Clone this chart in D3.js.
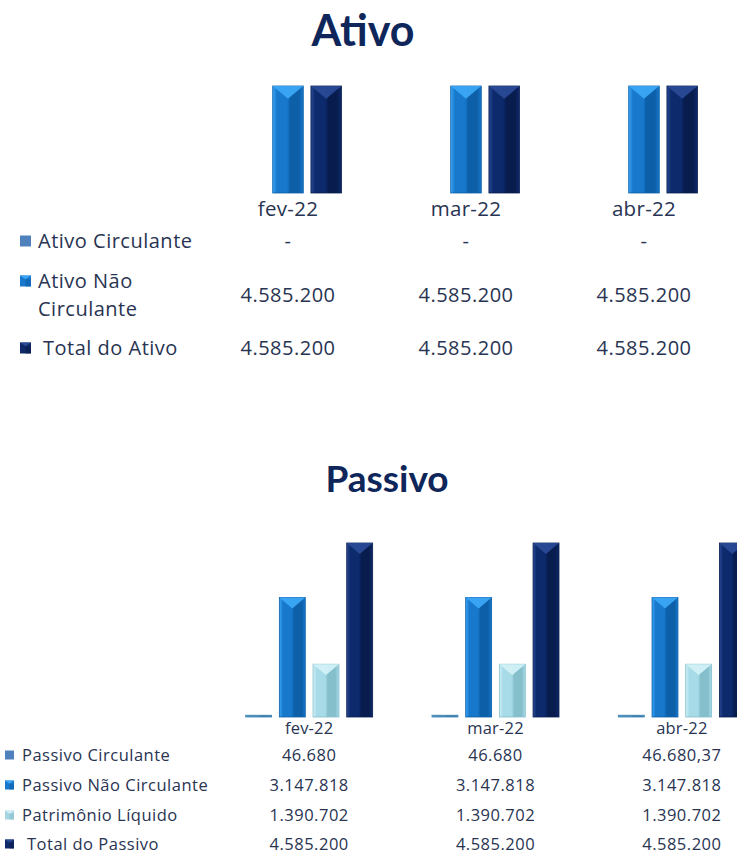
<!DOCTYPE html>
<html>
<head>
<meta charset="utf-8">
<script src="https://cdn.jsdelivr.net/npm/d3@7"></script>
<style>
  body { margin: 0; background: #fff; }
  svg { display: block; font-family: 'Open Sans', Lato, sans-serif; }
</style>
</head>
<body>
<div id="chartwrap"></div>
<script>
const WIDTH = 737;
const HEIGHT = 855;

const periodos = ['fev-22', 'mar-22', 'abr-22'];

const ativoSeries = ['Ativo Circulante', 'Ativo Não Circulante', 'Total do Ativo'];
const ativoCirculante = [0, 0, 0];
const ativoNaoCirculante = [4585200, 4585200, 4585200];
const totalAtivo = [4585200, 4585200, 4585200];

const passivoSeries = ['Passivo Circulante', 'Passivo Não Circulante', 'Patrimônio Líquido', 'Total do Passivo'];
const passivoCirculante = [46680, 46680, 46680.37];
const passivoNaoCirculante = [3147818, 3147818, 3147818];
const patrimonioLiquido = [1390702, 1390702, 1390702];
const totalPassivo = [4585200, 4585200, 4585200];

// cores: principal, claro, escuro, marcador
const paleta = {
  circ: { main: '#4f86c6', light: '#6fa3da', dark: '#3a6ea8', mark: '#4f81bd' },
  naoCirc: { main: '#1778cc', light: '#3aa6f4', dark: '#0d5fa8', mark: '#1a78cc' },
  pl: { main: '#a7dbe7', light: '#d2f1f7', dark: '#86bfcc', mark: '#a7d6e2' },
  total: { main: '#0d2a6c', light: '#2a4a96', dark: '#081c4e', mark: '#0f2a66' }
};
const passivoCircCor = { main: '#4a95c4', light: '#6ab0d8', dark: '#3a7fae', mark: '#4f81bd' };

const ptBR = d3.formatLocale({ decimal: ',', thousands: '.', grouping: [3], currency: ['R$ ', ''] });
const fmtInt = ptBR.format(',.0f');
const fmtDec = ptBR.format(',.2f');
const fmt = v => v === 0 ? '-' : (Number.isInteger(v) ? fmtInt(v) : fmtDec(v));

const TEXT = '#283452';
const TITLE = '#0e2659';

const svg = d3.select('#chartwrap')
  .append('svg')
  .attr('width', WIDTH)
  .attr('height', HEIGHT)
  .style('background-color', '#fff');

const defs = svg.append('defs');

function gradiente(id, c) {
  const g = defs.append('linearGradient')
    .attr('id', id)
    .attr('x1', '0%').attr('x2', '100%').attr('y1', '0%').attr('y2', '0%');
  [[0, c.light], [0.14, c.main], [0.5, c.main], [0.56, c.dark], [0.86, c.dark], [1, c.main]]
    .forEach(([o, col]) => g.append('stop').attr('offset', o).attr('stop-color', col));
}
gradiente('g-circ', paleta.circ);
gradiente('g-naoCirc', paleta.naoCirc);
gradiente('g-pl', paleta.pl);
gradiente('g-total', paleta.total);
gradiente('g-pcirc', passivoCircCor);

// desenha barras biseladas
function barras(g, dados, x0, x1, y, cores) {
  const grupos = g.selectAll('g.grupo')
    .data(periodos)
    .enter()
    .append('g')
    .attr('class', 'grupo')
    .attr('transform', d => `translate(${x0(d) + x0.bandwidth() / 2},0)`);

  grupos.each(function(p, i) {
    const sel = d3.select(this);
    dados.forEach((s, k) => {
      const v = s.values[i];
      if (v === 0) return;
      const bx = x1(s.name);
      const bw = x1.bandwidth();
      const top = y(v);
      const h = Math.max(y(0) - top, 1.5);
      const c = cores[k];
      sel.append('rect')
        .attr('x', bx)
        .attr('y', y(0) - h)
        .attr('width', bw)
        .attr('height', h)
        .attr('fill', `url(#${c.grad})`)
        .attr('stroke', c.dark)
        .attr('stroke-width', 0.8);
      if (h > bw / 2) {
        sel.append('path')
          .attr('d', `M${bx},${top} L${bx + bw},${top} L${bx + bw / 2},${top + bw * 0.42} Z`)
          .attr('fill', c.light)
          .attr('opacity', 0.95);
        sel.append('line')
          .attr('x1', bx + bw / 2).attr('x2', bx + bw / 2)
          .attr('y1', top + bw * 0.42).attr('y2', y(0))
          .attr('stroke', c.dark)
          .attr('stroke-opacity', 0.25)
          .attr('stroke-width', 1);
      }
    });
  });
}

function marcador(g, x, yc, size, c) {
  g.append('rect')
    .attr('x', x).attr('y', yc - size / 2)
    .attr('width', size).attr('height', size)
    .attr('fill', c.mark);
  if (c.bevel) {
    g.append('path')
      .attr('d', `M${x},${yc - size / 2} L${x + size},${yc - size / 2} L${x + size / 2},${yc - size / 2 + size * 0.35} Z`)
      .attr('fill', c.light);
    g.append('rect')
      .attr('x', x + size / 2).attr('y', yc - size / 2 + size * 0.35)
      .attr('width', size / 2).attr('height', size * 0.65)
      .attr('fill', c.dark).attr('opacity', 0.6);
  }
}

// ---------- ATIVO ----------
const ativo = svg.append('g').attr('id', 'ativo');

ativo.append('text')
  .attr('x', 363).attr('y', 46)
  .attr('text-anchor', 'middle')
  .attr('font-family', 'Lato, sans-serif')
  .attr('font-size', 43)
  .attr('font-weight', 'bold')
  .attr('fill', TITLE)
  .text('Ativo');

const ax0 = d3.scaleBand().domain(periodos).range([199, 733]);
const ax1 = d3.scaleBand().domain(ativoSeries).range([-53.5, 53.5]).paddingInner(0.2);
const ay = d3.scaleLinear().domain([0, d3.max(totalAtivo)]).range([193, 86]);

const ativoDados = [
  { name: ativoSeries[0], values: ativoCirculante },
  { name: ativoSeries[1], values: ativoNaoCirculante },
  { name: ativoSeries[2], values: totalAtivo }
];
barras(ativo.append('g'), ativoDados, ax0, ax1, ay, [
  Object.assign({ grad: 'g-circ' }, paleta.circ),
  Object.assign({ grad: 'g-naoCirc' }, paleta.naoCirc),
  Object.assign({ grad: 'g-total' }, paleta.total)
]);

const axAtivo = d3.axisBottom(ax0).tickSize(0).tickPadding(0);
ativo.append('g')
  .attr('transform', 'translate(0,201)')
  .call(axAtivo)
  .call(g => g.select('.domain').remove())
  .call(g => g.selectAll('text')
    .attr('font-size', 20.5)
    .attr('letter-spacing', 0.3)
    .attr('font-family', "'Open Sans', sans-serif")
    .attr('fill', TEXT));

// tabela do ativo
const ativoLinhas = [
  { label: ['Ativo Circulante'], y: 241, lx: 38, cor: paleta.circ, bevel: false, values: ativoCirculante },
  { label: ['Ativo Não', 'Circulante'], y: 295, ly: [281, 309], mky: 281, lx: 38, cor: paleta.naoCirc, bevel: true, values: ativoNaoCirculante },
  { label: ['Total do Ativo'], y: 348, lx: 43, cor: paleta.total, bevel: true, values: totalAtivo }
];
const tabA = ativo.append('g').attr('font-size', 20).attr('letter-spacing', 0.5).attr('fill', TEXT);
ativoLinhas.forEach(r => {
  marcador(tabA, 20, r.mky || r.y, 11, Object.assign({ bevel: r.bevel }, r.cor));
  const ys = r.ly || [r.y];
  r.label.forEach((t, j) => {
    tabA.append('text')
      .attr('x', r.lx).attr('y', ys[j])
      .attr('dy', '0.35em')
      .text(t);
  });
  r.values.forEach((v, i) => {
    tabA.append('text')
      .attr('x', ax0(periodos[i]) + ax0.bandwidth() / 2)
      .attr('y', r.y)
      .attr('dy', '0.35em')
      .attr('text-anchor', 'middle')
      .text(fmt(v));
  });
});

// ---------- PASSIVO ----------
const passivo = svg.append('g').attr('id', 'passivo');

passivo.append('text')
  .attr('x', 387).attr('y', 492)
  .attr('text-anchor', 'middle')
  .attr('font-family', 'Lato, sans-serif')
  .attr('font-size', 37)
  .attr('font-weight', 'bold')
  .attr('fill', TITLE)
  .text('Passivo');

const px0 = d3.scaleBand().domain(periodos).range([216, 775]);
const px1 = d3.scaleBand().domain(passivoSeries).range([-63.5, 63.5]).paddingInner(0.23);
const py = d3.scaleLinear().domain([0, d3.max(totalPassivo)]).range([717, 543]);

const passivoDados = [
  { name: passivoSeries[0], values: passivoCirculante },
  { name: passivoSeries[1], values: passivoNaoCirculante },
  { name: passivoSeries[2], values: patrimonioLiquido },
  { name: passivoSeries[3], values: totalPassivo }
];
barras(passivo.append('g'), passivoDados, px0, px1, py, [
  Object.assign({ grad: 'g-pcirc' }, passivoCircCor),
  Object.assign({ grad: 'g-naoCirc' }, paleta.naoCirc),
  Object.assign({ grad: 'g-pl' }, paleta.pl),
  Object.assign({ grad: 'g-total' }, paleta.total)
]);

const axPassivo = d3.axisBottom(px0).tickSize(0).tickPadding(0);
passivo.append('g')
  .attr('transform', 'translate(0,722)')
  .call(axPassivo)
  .call(g => g.select('.domain').remove())
  .call(g => g.selectAll('text')
    .attr('font-size', 16.5)
    .attr('letter-spacing', 0.2)
    .attr('font-family', "'Open Sans', sans-serif")
    .attr('fill', TEXT));

const passivoLinhas = [
  { label: 'Passivo Circulante', y: 755, lx: 22, cor: paleta.circ, bevel: false, values: passivoCirculante },
  { label: 'Passivo Não Circulante', y: 785, lx: 22, cor: paleta.naoCirc, bevel: true, values: passivoNaoCirculante },
  { label: 'Patrimônio Líquido', y: 815, lx: 22, cor: paleta.pl, bevel: true, values: patrimonioLiquido },
  { label: 'Total do Passivo', y: 844, lx: 27, cor: paleta.total, bevel: true, values: totalPassivo }
];
const tabP = passivo.append('g').attr('font-size', 16.5).attr('letter-spacing', 0.5).attr('fill', TEXT);
passivoLinhas.forEach(r => {
  marcador(tabP, 5, r.y, 9, Object.assign({ bevel: r.bevel }, r.cor));
  tabP.append('text')
    .attr('x', r.lx).attr('y', r.y)
    .attr('dy', '0.35em')
    .text(r.label);
  r.values.forEach((v, i) => {
    tabP.append('text')
      .attr('x', px0(periodos[i]) + px0.bandwidth() / 2)
      .attr('y', r.y)
      .attr('dy', '0.35em')
      .attr('text-anchor', 'middle')
      .text(fmt(v));
  });
});
</script>
</body>
</html>
